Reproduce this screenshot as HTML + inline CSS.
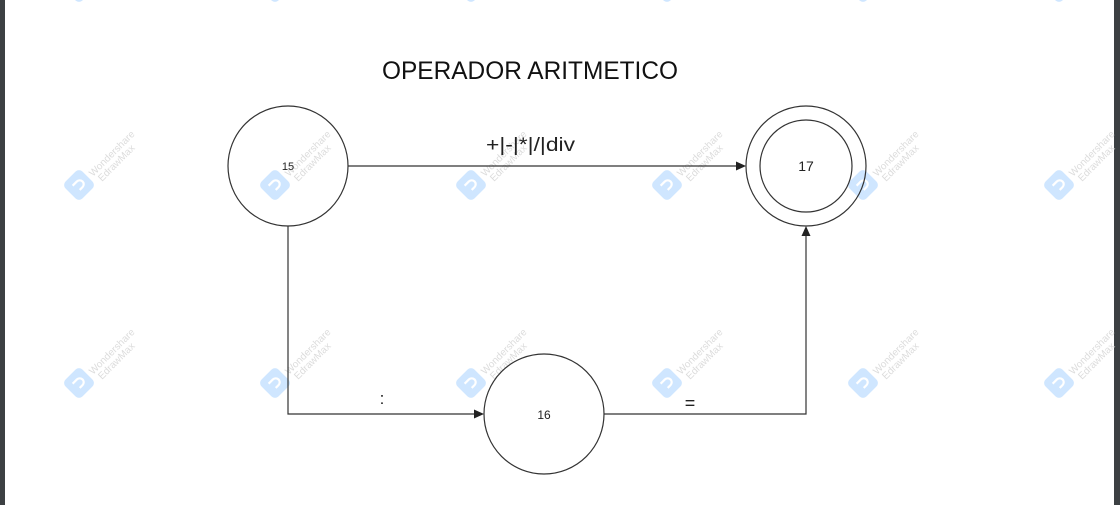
<!DOCTYPE html>
<html><head><meta charset="utf-8"><style>
html,body{margin:0;padding:0;background:#fff;}
svg{display:block;}
</style></head><body>
<svg width="1120" height="505" viewBox="0 0 1120 505" xmlns="http://www.w3.org/2000/svg" font-family="Liberation Sans, sans-serif">
<rect x="0" y="0" width="1120" height="505" fill="#fff"/>
<rect x="0" y="0" width="5" height="505" fill="#3c4043"/>
<rect x="1114" y="0" width="6" height="505" fill="#3c4043"/>
<defs>
<g id="wm">
<rect x="-12" y="-12" width="24" height="24" rx="5" fill="#cfe6ff" transform="rotate(45)"/>
<path d="M-4 5 L-4 -1 A4 4 0 0 1 4 -1 L4 3" fill="none" stroke="#fff" stroke-width="2.2" transform="rotate(45)"/>
<text x="14" y="-8" font-size="10" fill="#dcdcdc" transform="rotate(-45 14 -8)">Wondershare</text>
<text x="23" y="-3" font-size="10" fill="#dcdcdc" transform="rotate(-45 23 -3)">EdrawMax</text>
</g>
</defs>
<use href="#wm" x="79" y="185"/><use href="#wm" x="275" y="185"/><use href="#wm" x="471" y="185"/><use href="#wm" x="667" y="185"/><use href="#wm" x="863" y="185"/><use href="#wm" x="1059" y="185"/>
<use href="#wm" x="79" y="383"/><use href="#wm" x="275" y="383"/><use href="#wm" x="471" y="383"/><use href="#wm" x="667" y="383"/><use href="#wm" x="863" y="383"/><use href="#wm" x="1059" y="383"/>
<use href="#wm" x="79" y="-13"/><use href="#wm" x="275" y="-13"/><use href="#wm" x="471" y="-13"/><use href="#wm" x="667" y="-13"/><use href="#wm" x="863" y="-13"/><use href="#wm" x="1059" y="-13"/>

<text x="382" y="79" font-size="25" textLength="296" lengthAdjust="spacingAndGlyphs" fill="#111">OPERADOR ARITMETICO</text>

<g fill="none" stroke="#333" stroke-width="1.2">
<circle cx="288" cy="166" r="60"/>
<circle cx="806" cy="166" r="60"/>
<circle cx="806" cy="166" r="46"/>
<circle cx="544" cy="414" r="60"/>
<line x1="348" y1="166" x2="738" y2="166"/>
<polyline points="288,226 288,414 476,414"/>
<polyline points="604,414 806,414 806,234"/>
</g>
<g fill="#222">
<polygon points="746,166 736,161.5 736,170.5"/>
<polygon points="484,414 474,409.5 474,418.5"/>
<polygon points="806,226 801.5,236 810.5,236"/>
</g>
<g fill="#222" text-anchor="middle">
<text x="288" y="170" font-size="11">15</text>
<text x="806" y="171" font-size="14">17</text>
<text x="544" y="419" font-size="12">16</text>
<text x="382" y="404" font-size="17">:</text>
<text x="690" y="409" font-size="18">=</text>
</g>
<text x="486" y="151" font-size="19" textLength="89" lengthAdjust="spacingAndGlyphs" fill="#222">+|-|*|/|div</text>
</svg>
</body></html>
